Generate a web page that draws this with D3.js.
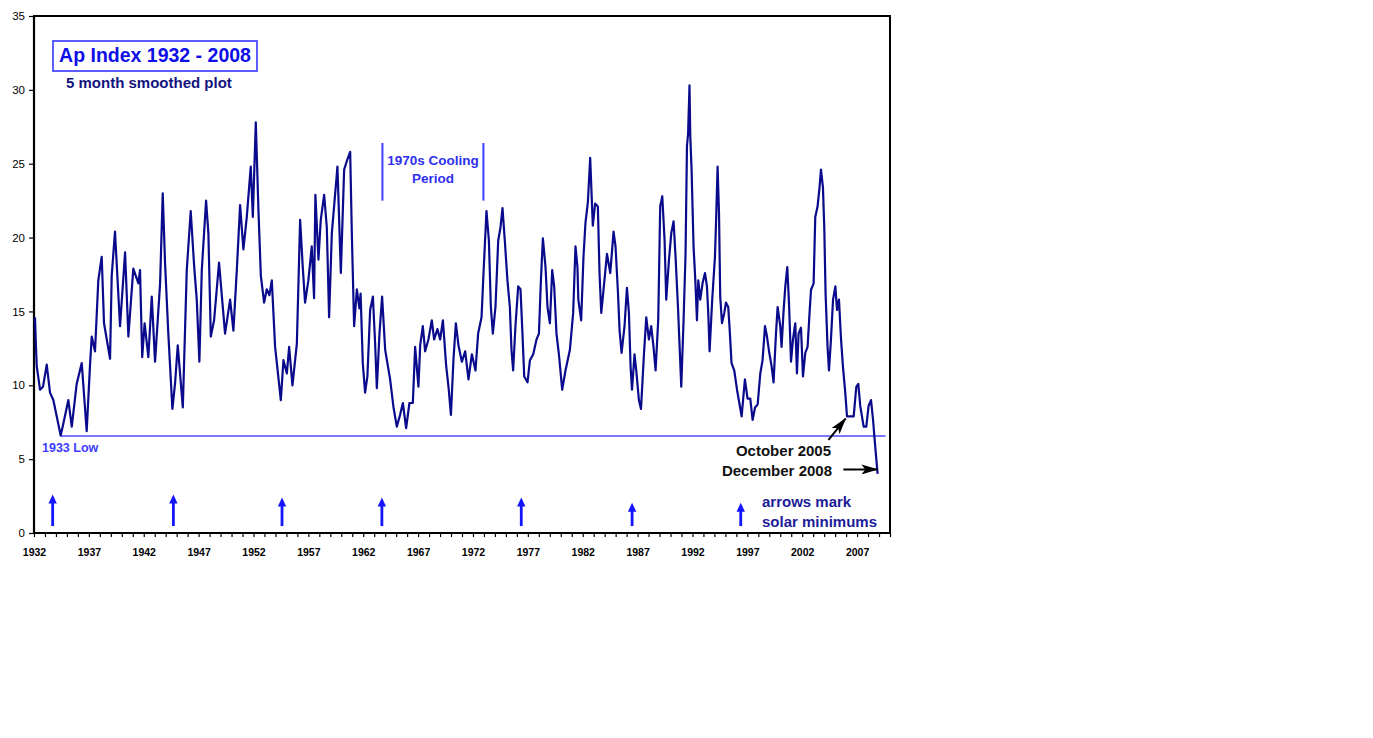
<!DOCTYPE html>
<html>
<head>
<meta charset="utf-8">
<script src="https://cdn.jsdelivr.net/npm/d3@7/dist/d3.min.js"></script>
<style>
  html, body { margin: 0; padding: 0; background: #fff; }
  svg { display: block; }
  text { font-family: Arial, "Liberation Sans", sans-serif; }
</style>
</head>
<body>
<svg id="chart" width="1373" height="738"></svg>
<script>
// ---------- DATA ----------
const apYears = [
1932.09,1932.18,1932.25,1932.55,1932.82,1933.16,1933.46,1933.76,1934.07,1934.43,1934.67,1935.13,1935.44,1935.89,1936.35,1936.80,
1937.10,1937.26,1937.56,1937.86,1938.17,1938.38,1938.93,1939.08,1939.38,1939.84,1940.30,1940.60,1941.05,1941.51,1941.66,1941.86,
1942.08,1942.42,1942.73,1943.03,1943.49,1943.73,1943.94,1944.24,1944.61,1944.85,1945.10,1945.56,1945.92,1946.28,1946.59,1946.83,
1947.07,1947.29,1947.68,1947.89,1948.11,1948.41,1948.86,1949.41,1949.87,1950.17,1950.48,1950.78,1951.08,1951.39,1951.75,1951.94,
1952.21,1952.45,1952.67,1952.97,1953.21,1953.45,1953.67,1953.97,1954.49,1954.73,1955.04,1955.25,1955.55,1955.95,1956.25,1956.49,
1956.70,1957.00,1957.31,1957.52,1957.64,1957.92,1958.13,1958.44,1958.68,1958.89,1959.14,1959.65,1959.96,1960.26,1960.56,1960.81,
1960.96,1961.17,1961.42,1961.65,1961.76,1961.96,1962.17,1962.38,1962.63,1962.88,1963.08,1963.24,1963.48,1963.72,1964.00,1964.45,
1964.75,1965.06,1965.36,1965.61,1965.91,1966.21,1966.52,1966.73,1967.03,1967.19,1967.43,1967.64,1967.94,1968.25,1968.46,1968.76,
1969.01,1969.26,1969.56,1969.77,1969.99,1970.22,1970.44,1970.68,1970.99,1971.29,1971.59,1971.90,1972.23,1972.47,1972.78,1972.96,
1973.23,1973.45,1973.63,1973.81,1974.05,1974.30,1974.51,1974.69,1974.90,1975.14,1975.36,1975.51,1975.66,1975.87,1976.12,1976.33,
1976.51,1976.67,1976.97,1977.19,1977.49,1977.79,1978.01,1978.19,1978.37,1978.61,1978.79,1979.01,1979.22,1979.40,1979.61,1979.83,
1980.13,1980.43,1980.83,1981.13,1981.34,1981.52,1981.60,1981.86,1982.07,1982.25,1982.47,1982.68,1982.92,1983.13,1983.38,1983.53,
1983.69,1983.90,1984.21,1984.51,1984.81,1984.99,1985.21,1985.36,1985.54,1985.81,1986.03,1986.21,1986.36,1986.49,1986.72,1986.88,
1987.12,1987.31,1987.58,1987.79,1988.03,1988.24,1988.45,1988.64,1988.88,1989.06,1989.25,1989.46,1989.61,1989.86,1990.07,1990.28,
1990.46,1990.68,1990.83,1990.98,1991.19,1991.37,1991.50,1991.60,1991.73,1991.80,1991.92,1992.10,1992.26,1992.41,1992.53,1992.71,
1992.92,1993.14,1993.32,1993.44,1993.56,1993.80,1994.05,1994.17,1994.29,1994.42,1994.53,1994.69,1994.90,1995.05,1995.26,1995.38,
1995.56,1995.81,1996.06,1996.27,1996.48,1996.78,1997.02,1997.27,1997.48,1997.70,1997.94,1998.18,1998.39,1998.61,1998.79,1999.00,
1999.21,1999.39,1999.61,1999.76,2000.00,2000.12,2000.30,2000.46,2000.64,2000.80,2000.98,2001.16,2001.37,2001.52,2001.67,2001.89,
2002.07,2002.28,2002.49,2002.67,2002.80,2003.04,2003.19,2003.40,2003.58,2003.71,2003.89,2004.01,2004.13,2004.31,2004.44,2004.62,
2004.81,2005.02,2005.17,2005.35,2005.54,2005.72,2005.93,2006.08,2006.29,2006.54,2006.69,2006.93,2007.11,2007.29,2007.60,2007.84,
2008.05,2008.27,2008.45,2008.66,2008.87
];
const apValues = [
14.6,12.6,11.3,9.7,9.9,11.4,9.5,9.0,7.9,6.6,7.4,9.0,7.2,10.1,11.5,6.9,
11.3,13.3,12.3,17.1,18.7,14.2,11.8,17.4,20.4,14.0,19.0,13.3,17.9,16.9,17.8,11.9,
14.2,11.9,16.0,11.6,16.9,23.0,18.3,13.5,8.4,10.1,12.7,8.5,17.8,21.8,18.1,15.8,
11.6,17.8,22.5,20.3,13.3,14.4,18.3,13.5,15.8,13.7,17.8,22.2,19.2,21.4,24.8,21.4,
27.8,21.9,17.4,15.6,16.5,16.1,17.1,12.6,9.0,11.7,10.8,12.6,10.0,12.8,21.2,18.0,
15.6,17.1,19.4,15.9,22.9,18.5,21.2,22.9,20.7,14.6,20.3,24.8,17.6,24.6,25.3,25.8,
20.3,14.0,16.5,15.2,16.2,11.5,9.5,10.6,15.1,16.0,12.9,9.8,13.5,16.0,12.4,10.4,
8.55,7.2,8.0,8.8,7.1,8.8,8.8,12.6,9.9,12.7,14.0,12.3,13.1,14.4,13.1,13.8,
13.1,14.4,11.3,9.9,8.0,11.7,14.2,12.7,11.6,12.3,10.4,12.1,11.0,13.5,14.6,17.6,
21.8,19.8,15.3,13.5,15.3,19.8,20.7,22.0,19.8,17.1,15.3,12.4,11.0,14.0,16.7,16.5,
13.5,10.6,10.2,11.7,12.1,13.1,13.5,17.1,19.95,18.0,15.3,14.2,17.8,16.7,13.5,12.1,
9.7,11.0,12.4,14.9,19.4,18.0,15.8,14.4,18.7,21.0,22.4,25.4,20.8,22.3,22.1,17.6,
14.9,16.5,18.9,17.6,20.4,19.4,16.3,13.7,12.2,14.0,16.6,14.9,11.3,9.7,12.1,11.0,
9.0,8.4,12.1,14.6,13.1,14.0,12.6,11.0,14.4,22.1,22.8,19.8,15.8,18.5,20.3,21.1,
18.7,15.3,12.6,9.9,14.4,18.9,26.2,27.0,30.3,26.9,24.6,19.4,17.1,14.4,17.1,15.8,
16.9,17.6,16.7,14.9,12.3,15.8,18.7,21.6,24.8,21.6,16.0,14.2,14.9,15.6,15.3,13.9,
11.5,11.0,9.7,8.8,7.9,10.4,9.1,9.1,7.65,8.5,8.7,10.8,11.7,14.0,13.3,12.2,
11.3,10.2,13.5,15.3,14.0,12.6,15.0,16.7,18.0,15.5,11.6,13.1,14.2,10.8,13.5,13.9,
10.6,12.2,12.6,14.9,16.45,16.9,21.4,22.1,23.4,24.6,23.4,20.7,16.2,12.6,11.0,13.1,
15.8,16.7,15.1,15.8,13.1,11.2,9.45,7.9,7.9,7.9,7.9,9.9,10.1,8.6,7.2,7.2,
8.6,9.0,7.7,5.8,4.0
];
const yTicks = [0, 5, 10, 15, 20, 25, 30, 35];
const xTickYears = d3.range(1932, 2011);           // one tick per year
const xLabelYears = d3.range(1932, 2008, 5);      // 1932, 1937 ... 2007
const lowLevel = 6.57;                             // "1933 Low" line value
const lowStartYear = 1934.4;
const solarMinYears = [1933.7, 1944.7, 1954.6, 1963.7, 1976.4, 1986.5, 1996.4];
const solarMinTips  = [2.6, 2.6, 2.4, 2.4, 2.4, 2.05, 2.05];
const solarMinBase  = 0.47;
const coolingYears = [1963.75, 1972.95];           // 1970s cooling bracket
const coolingRange = [22.5, 26.4];
const octArrow = { from: [2004.4, 6.3], to: [2005.95, 7.75] };
const decArrow = { from: [2005.75, 4.3], to: [2008.85, 4.3] };

// ---------- SCALES ----------
const svg = d3.select("#chart");
const x = d3.scaleLinear().domain([1932, 2010]).range([34, 890]);
const y = d3.scaleLinear().domain([0, 35]).range([533, 16]);

// defs: black arrowhead
const defs = svg.append("defs");
defs.append("marker").attr("id", "blackHead")
  .attr("viewBox", "0 0 17 10").attr("refX", 16).attr("refY", 5)
  .attr("markerWidth", 8.5).attr("markerHeight", 5).attr("orient", "auto")
  .attr("markerUnits", "strokeWidth")
  .append("path").attr("d", "M0,0 L17,5 L0,10 L4,5 Z").attr("fill", "#000");

// plot frame
svg.append("rect").attr("x", x(1932)).attr("y", y(35))
  .attr("width", x(2010) - x(1932)).attr("height", y(0) - y(35))
  .attr("fill", "#fff").attr("stroke", "#000").attr("stroke-width", 2);

// ---------- AXES ----------
const yAxis = d3.axisLeft(y).tickValues(yTicks).tickSize(5).tickSizeOuter(0).tickPadding(4);
const gy = svg.append("g").attr("transform", `translate(${x(1932)},0)`).call(yAxis);
gy.select(".domain").remove();
gy.selectAll("line").attr("stroke", "#000").attr("stroke-width", 1.2);
gy.selectAll("text").attr("font-size", 11.5).attr("fill", "#000")
  .attr("font-family", "Arial, 'Liberation Sans', sans-serif");

const xAxis = d3.axisBottom(x).tickValues(xTickYears).tickSize(4).tickSizeOuter(0).tickPadding(12)
  .tickFormat(d => xLabelYears.includes(d) ? String(d) : "");
const gx = svg.append("g").attr("transform", `translate(0,${y(0)})`).call(xAxis);
gx.select(".domain").remove();
gx.selectAll("line").attr("stroke", "#000").attr("stroke-width", 1.2);
gx.selectAll("text").attr("font-size", 10.5).attr("font-weight", "bold").attr("fill", "#000")
  .attr("font-family", "Arial, 'Liberation Sans', sans-serif");

// axis lines (thick)
svg.append("line").attr("x1", x(1932)).attr("x2", x(2010)).attr("y1", y(0)).attr("y2", y(0))
  .attr("stroke", "#000").attr("stroke-width", 2);
svg.append("line").attr("x1", x(1932)).attr("x2", x(1932)).attr("y1", y(0)).attr("y2", y(35))
  .attr("stroke", "#000").attr("stroke-width", 2.2);

// ---------- 1933 LOW LINE ----------
svg.append("line").attr("x1", x(lowStartYear)).attr("x2", x(2009.6))
  .attr("y1", y(lowLevel)).attr("y2", y(lowLevel))
  .attr("stroke", "#7878f8").attr("stroke-width", 2);
svg.append("text").attr("x", 42).attr("y", y(lowLevel) + 16.5)
  .attr("font-size", 12.5).attr("font-weight", "bold").attr("fill", "#3c3cff").text("1933 Low");

// ---------- SERIES ----------
const series = apYears.map((yr, i) => [yr, apValues[i]]);
const line = d3.line().x(d => x(d[0])).y(d => y(d[1]));
svg.append("path").datum(series).attr("d", line)
  .attr("fill", "none").attr("stroke", "#0a0a8c").attr("stroke-width", 2.2)
  .attr("stroke-linejoin", "round");

// ---------- SOLAR MINIMUM ARROWS ----------
const gMin = svg.append("g");
gMin.selectAll("line").data(solarMinYears).join("line")
  .attr("x1", d => x(d)).attr("x2", d => x(d))
  .attr("y1", y(solarMinBase)).attr("y2", (d, i) => y(solarMinTips[i]) + 7)
  .attr("stroke", "#1414ff").attr("stroke-width", 2.8);
gMin.selectAll("path").data(solarMinYears).join("path")
  .attr("d", (d, i) => {
    const cx = x(d), ty = y(solarMinTips[i]);
    return `M${cx},${ty} L${cx + 4.2},${ty + 9} L${cx - 4.2},${ty + 9} Z`;
  })
  .attr("fill", "#1414ff");

svg.append("text").attr("x", 762).attr("y", 507)
  .attr("font-size", 15).attr("font-weight", "bold").attr("fill", "#1c1c98").text("arrows mark");
svg.append("text").attr("x", 762).attr("y", 527)
  .attr("font-size", 15).attr("font-weight", "bold").attr("fill", "#1c1c98").text("solar minimums");

// ---------- 1970s COOLING PERIOD ----------
svg.append("g").selectAll("line").data(coolingYears).join("line")
  .attr("x1", d => x(d)).attr("x2", d => x(d))
  .attr("y1", y(coolingRange[0])).attr("y2", y(coolingRange[1]))
  .attr("stroke", "#3c3cff").attr("stroke-width", 2);
const coolMid = (x(coolingYears[0]) + x(coolingYears[1])) / 2;
svg.append("text").attr("x", coolMid).attr("y", 165).attr("text-anchor", "middle")
  .attr("font-size", 13.5).attr("font-weight", "bold").attr("fill", "#3030f0").text("1970s Cooling");
svg.append("text").attr("x", coolMid).attr("y", 183).attr("text-anchor", "middle")
  .attr("font-size", 13.5).attr("font-weight", "bold").attr("fill", "#3030f0").text("Period");

// ---------- TITLE ----------
svg.append("rect").attr("x", 53).attr("y", 41).attr("width", 204).attr("height", 30)
  .attr("fill", "#fff").attr("stroke", "#5c5cff").attr("stroke-width", 2);
svg.append("text").attr("x", 155).attr("y", 61.5).attr("text-anchor", "middle")
  .attr("font-size", 19.5).attr("font-weight", "bold").attr("fill", "#0e0ee6").text("Ap Index 1932 - 2008");
svg.append("text").attr("x", 66).attr("y", 88)
  .attr("font-size", 15).attr("font-weight", "bold").attr("fill", "#14147e").text("5 month smoothed plot");

// ---------- OCT 2005 / DEC 2008 ANNOTATIONS ----------
[octArrow, decArrow].forEach(a => {
  svg.append("line")
    .attr("x1", x(a.from[0])).attr("y1", y(a.from[1]))
    .attr("x2", x(a.to[0])).attr("y2", y(a.to[1]))
    .attr("stroke", "#000").attr("stroke-width", 2)
    .attr("marker-end", "url(#blackHead)");
});
svg.append("text").attr("x", 831).attr("y", 456).attr("text-anchor", "end")
  .attr("font-size", 15).attr("font-weight", "bold").attr("fill", "#111").text("October 2005");
svg.append("text").attr("x", 832).attr("y", 476).attr("text-anchor", "end")
  .attr("font-size", 15).attr("font-weight", "bold").attr("fill", "#111").text("December 2008");
</script>
</body>
</html>
